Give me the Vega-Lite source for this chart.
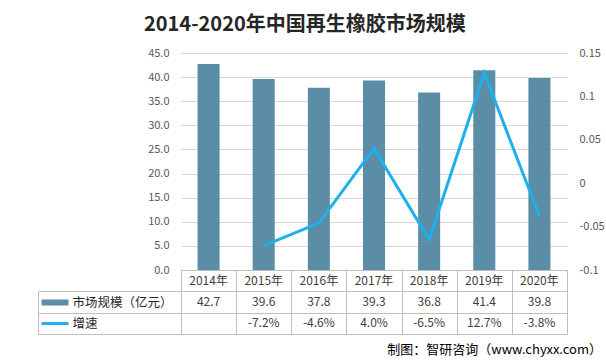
{
  "$schema": "https://vega.github.io/schema/vega-lite/v6.json",
  "padding": {"left": 37, "top": 15, "right": 4, "bottom": 4},
  "bounds": "flush",
  "spacing": 0,
  "title": {
    "text": "2014-2020年中国再生橡胶市场规模",
    "font": "Noto Sans CJK SC",
    "fontSize": 20,
    "fontWeight": "bold",
    "color": "#262626",
    "anchor": "middle",
    "offset": 12,
    "dx": -16
  },
  "data": {
    "values": [
      {"year": "2014年", "scale": 42.7, "growth": null},
      {"year": "2015年", "scale": 39.6, "growth": -0.072},
      {"year": "2016年", "scale": 37.8, "growth": -0.046},
      {"year": "2017年", "scale": 39.3, "growth": 0.04},
      {"year": "2018年", "scale": 36.8, "growth": -0.065},
      {"year": "2019年", "scale": 41.4, "growth": 0.127},
      {"year": "2020年", "scale": 39.8, "growth": -0.038}
    ]
  },
  "vconcat": [
    {
      "width": 386,
      "height": 217,
      "layer": [
        {
          "mark": {"type": "bar", "color": "#5b8ea6"},
          "encoding": {
            "x": {
              "field": "year",
              "type": "nominal",
              "axis": null,
              "scale": {
                "domain": ["2014年", "2015年", "2016年", "2017年", "2018年", "2019年", "2020年"],
                "paddingInner": 0.6,
                "paddingOuter": 0.3
              }
            },
            "y": {
              "field": "scale",
              "type": "quantitative",
              "scale": {"domain": [0, 45]},
              "axis": {
                "orient": "left",
                "values": [0, 5, 10, 15, 20, 25, 30, 35, 40, 45],
                "format": ".1f",
                "grid": true,
                "gridColor": "#d9d9d9",
                "domain": false,
                "ticks": false,
                "labelPadding": 12,
                "title": null
              }
            }
          }
        },
        {
          "transform": [{"filter": "isValid(datum.growth)"}],
          "mark": {"type": "line", "color": "#1db0ec", "strokeWidth": 3},
          "encoding": {
            "x": {"field": "year", "type": "nominal"},
            "y": {
              "field": "growth",
              "type": "quantitative",
              "scale": {"domain": [-0.1, 0.15]},
              "axis": {
                "orient": "right",
                "values": [-0.1, -0.05, 0, 0.05, 0.1, 0.15],
                "labelExpr": "'' + datum.value",
                "grid": false,
                "domain": false,
                "ticks": false,
                "labelPadding": 12,
                "title": null
              }
            }
          }
        }
      ],
      "resolve": {"scale": {"y": "independent"}}
    },
    {
      "width": 386,
      "height": 64,
      "title": {
        "text": "制图：智研咨询（www.chyxx.com）",
        "orient": "bottom",
        "anchor": "end",
        "font": "Noto Sans CJK SC",
        "fontSize": 13,
        "fontWeight": "normal",
        "color": "#000000",
        "offset": 9,
        "dx": 35
      },
      "encoding": {
        "x": {
          "field": "year",
          "type": "nominal",
          "scale": {
            "domain": ["2014年", "2015年", "2016年", "2017年", "2018年", "2019年", "2020年"],
            "paddingInner": 0,
            "paddingOuter": 0
          },
          "axis": {
            "orient": "bottom",
            "grid": true,
            "gridColor": "#bfbfbf",
            "tickBand": "extent",
            "labels": false,
            "ticks": false,
            "domain": false,
            "title": null
          }
        }
      },
      "layer": [
        {
          "mark": {"type": "text", "fontSize": 12, "color": "#404040"},
          "encoding": {
            "text": {"field": "year"},
            "y": {
              "datum": "年份",
              "type": "nominal",
              "scale": {
                "domain": ["年份", "市场规模（亿元）", "增速"],
                "paddingInner": 0,
                "paddingOuter": 0
              },
              "axis": {
                "orient": "left",
                "grid": true,
                "gridColor": "#bfbfbf",
                "tickBand": "extent",
                "domain": false,
                "ticks": true,
                "tickSize": 143,
                "tickColor": {"condition": {"test": "datum.extra", "value": "transparent"}, "value": "#bfbfbf"},
                "labelAlign": "left",
                "labelPadding": -34,
                "labelExpr": "datum.value === '年份' ? '' : datum.value",
                "labelColor": "#262626",
                "labelFontSize": 12.5,
                "title": null
              }
            }
          }
        },
        {
          "mark": {"type": "text", "fontSize": 12, "color": "#404040"},
          "encoding": {
            "text": {"field": "scale", "format": ".1f"},
            "y": {
              "datum": "市场规模（亿元）",
              "type": "nominal",
              "axis": {
                "orient": "left",
                "offset": 113,
                "domain": false,
                "grid": false,
                "labels": false,
                "ticks": true,
                "tickSize": 27,
                "tickColor": {"condition": {"test": "datum.value === '市场规模（亿元）'", "value": "#5b8ea6"}, "value": "#1db0ec"},
                "tickWidth": {"condition": {"test": "datum.value === '市场规模（亿元）'", "value": 6}, "value": 3},
                "tickOpacity": {"condition": {"test": "datum.value === '年份'", "value": 0}, "value": 1},
                "title": null
              }
            }
          }
        },
        {
          "transform": [{"filter": "isValid(datum.growth)"}],
          "mark": {"type": "text", "fontSize": 12, "color": "#404040"},
          "encoding": {
            "text": {"field": "growth", "format": ".1%"},
            "y": {
              "datum": "增速",
              "type": "nominal",
              "axis": {
                "orient": "left",
                "offset": 143,
                "domain": true,
                "domainColor": "#bfbfbf",
                "domainDash": [0, 21.33, 42.67],
                "grid": false,
                "labels": false,
                "ticks": false,
                "title": null
              }
            }
          }
        }
      ],
      "resolve": {"axis": {"y": "independent"}}
    }
  ],
  "config": {
    "font": "Noto Sans CJK SC",
    "view": {"stroke": null},
    "axis": {"labelFont": "Noto Sans CJK SC", "labelFontSize": 11, "labelColor": "#595959"},
    "locale": {
      "number": {"decimal": ".", "thousands": ",", "grouping": [3], "currency": ["$", ""], "minus": "-"}
    }
  }
}
